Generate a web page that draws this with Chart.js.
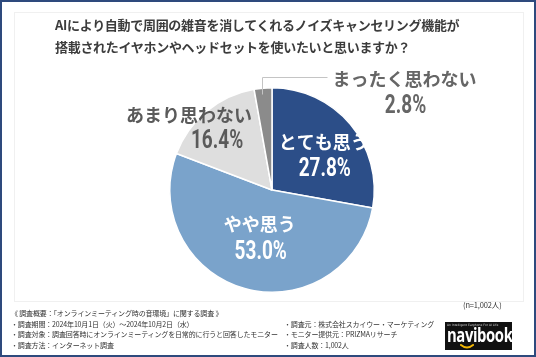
<!DOCTYPE html>
<html><head><meta charset="utf-8">
<script src="https://cdn.jsdelivr.net/npm/chart.js@4"></script>
<style>
html,body{margin:0;padding:0;background:#fff;}
#wrap{position:relative;width:536px;height:357px;box-sizing:border-box;border:2px solid #2e4a7d;overflow:hidden;font-family:"Noto Sans CJK JP","Noto Sans",sans-serif;}
#inner{position:absolute;left:12px;top:10px;width:508px;height:288px;border:1px solid #f0f0f0;}
#chart{position:absolute;left:-2px;top:-2px;}
.t{position:absolute;white-space:nowrap;color:#3a3a3a;}
.title{left:53px;font-size:13px;font-weight:700;letter-spacing:-0.3px;color:#3c3c3c;}
.f{font-size:7px;color:#333;letter-spacing:-0.15px;}
#logo{position:absolute;left:443px;top:320px;width:67px;height:28px;background:#111;overflow:hidden;}
#logo .tiny{position:absolute;left:2px;top:1px;font-size:3px;color:#ccc;font-family:"DejaVu Sans";}
#logo .nm{position:absolute;left:2px;top:0px;font-family:"Open Sans","DejaVu Sans",sans-serif;font-weight:700;font-size:19px;color:#fff;letter-spacing:-0.5px;transform:scaleX(0.78);transform-origin:0 0;}
#logo svg{position:absolute;left:0;top:0;}
</style></head>
<body>
<div id="wrap">
<div id="inner"></div>
<canvas id="chart" width="536" height="357"></canvas>
<div class="t title" style="top:13px">AIにより自動で周囲の雑音を消してくれるノイズキャンセリング機能が</div>
<div class="t title" style="top:35px">搭載されたイヤホンやヘッドセットを使いたいと思いますか？</div>
<div class="t f" style="left:461px;top:297px;font-size:7.5px">(n=1,002人)</div>
<div class="t f" style="left:9px;top:306px">《 調査概要：「オンラインミーティング時の音環境」に関する調査 》</div>
<div class="t f" style="left:9px;top:317px">・調査期間：2024年10月1日（火）～2024年10月2日（水）</div>
<div class="t f" style="left:9px;top:327px">・調査対象：調査回答時にオンラインミーティングを日常的に行うと回答したモニター</div>
<div class="t f" style="left:9px;top:338px">・調査方法：インターネット調査</div>
<div class="t f" style="left:282px;top:317px">・調査元：株式会社スカイウー・マーケティング</div>
<div class="t f" style="left:282px;top:327px">・モニター提供元：PRIZMAリサーチ</div>
<div class="t f" style="left:282px;top:338px">・調査人数：1,002人</div>
<div id="logo"><div class="tiny">An Intelligent Earphone For AI Life</div><div class="nm">navibook</div>
<svg width="67" height="28"><path d="M16 23 Q22 28 28 23" stroke="#f2b705" stroke-width="2" fill="none" stroke-linecap="round"/></svg></div>
</div>
<script>
const categories = ["とても思う", "やや思う", "あまり思わない", "まったく思わない"];
const values = [27.8, 53.0, 16.4, 2.8];
const valueLabels = ["27.8%", "53.0%", "16.4%", "2.8%"];

const colors = ["#2c4e88", "#7aa3cb", "#dedede", "#8b8b8b"];
// label placement: anchor at radius factor / angle offset, then offsets for name and value
const labelStyle = [
  {r: 0.63, da: 0.06, color: "#ffffff", name: [0, -10], val: [1, 18]},
  {r: 0.45, da: 0.0, color: "#ffffff", name: [0, -10], val: [1, 18]},
  {r: 0.82, da: -0.14, color: "#5a5a5a", name: [-21, -18], val: [7, 8]},
  {leader: true, color: "#666666", name: [142, -9], val: [143, 18]}
];

const labelPlugin = {
  id: "labels",
  afterDatasetsDraw(chart) {
    const ctx = chart.ctx;
    const meta = chart.getDatasetMeta(0);
    meta.data.forEach((arc, i) => {
      const p = arc.getProps(["x","y","startAngle","endAngle","outerRadius"], true);
      const mid = (p.startAngle + p.endAngle) / 2;
      const st = labelStyle[i];
      let lx, ly;
      ctx.save();
      if (st.leader) {
        const sx = Math.round(p.x + Math.cos(mid) * p.outerRadius) - 0.5;
        const sy = Math.round(p.y + Math.sin(mid) * p.outerRadius) + 0.5;
        ctx.strokeStyle = "#c4c4c4"; ctx.lineWidth = 1;
        ctx.beginPath();
        ctx.moveTo(sx, sy + 6);
        ctx.lineTo(sx, sy - 11);
        ctx.lineTo(sx + 65, sy - 11);
        ctx.stroke();
        lx = sx; ly = sy;
      } else {
        const a = mid + st.da;
        lx = p.x + Math.cos(a) * p.outerRadius * st.r;
        ly = p.y + Math.sin(a) * p.outerRadius * st.r;
      }
      ctx.fillStyle = st.color;
      ctx.textAlign = "center"; ctx.textBaseline = "middle";
      ctx.font = '700 18px "Noto Sans CJK JP"';
      ctx.fillText(categories[i], lx + st.name[0], ly + st.name[1]);
      ctx.font = '700 25px "Roboto", sans-serif';
      ctx.translate(lx + st.val[0], ly + st.val[1]);
      ctx.scale(0.76, 1);
      ctx.fillText(valueLabels[i], 0, 0);
      ctx.restore();
    });
  }
};

new Chart(document.getElementById("chart"), {
  type: "pie",
  data: {
    labels: categories,
    datasets: [{ data: values, backgroundColor: colors, borderColor: "#ffffff", borderWidth: 1.5 }]
  },
  options: {
    responsive: false,
    animation: false,
    layout: { padding: { left: 169, right: 161, top: 87, bottom: 64 } },
    plugins: { legend: { display: false }, tooltip: { enabled: false } }
  },
  plugins: [labelPlugin]
});
</script>
</body></html>
